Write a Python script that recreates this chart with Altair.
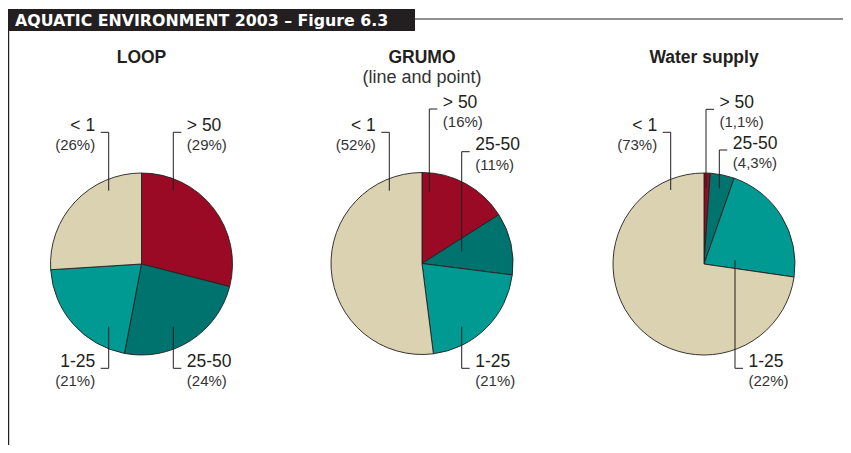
import altair as alt
import numpy as np
import pandas as pd

# ---------------- data ----------------
groups = ["LOOP", "GRUMO", "Water supply"]
classes = ["> 50", "25-50", "1-25", "< 1"]
loop_share = [29, 24, 21, 26]
grumo_share = [16, 11, 21, 52]
water_share = [1.1, 4.3, 22, 73]
shares = {"LOOP": loop_share, "GRUMO": grumo_share, "Water supply": water_share}
subtitles = {"GRUMO": "(line and point)"}
header_text = "AQUATIC ENVIRONMENT 2003 – Figure 6.3"

# ---------------- style / layout ----------------
colors = ["#9a0a24", "#00736f", "#009a93", "#dbd2b2"]
INK = "#231f20"
OFF = 8                     # page margin -> chart coordinates
W, H = 835, 437
R = 91
centers = {"LOOP": (141.5, 264), "GRUMO": (422, 263.5), "Water supply": (704, 264)}
title_y = 58
subtitle_y = 78
# leader elbow (x, y), inner end y, side -- page coordinates
leaders = {
    ("LOOP", "> 50"): (173.3, 132.3, 190.7, "R"),
    ("LOOP", "25-50"): (173.3, 368.3, 326.7, "R"),
    ("LOOP", "1-25"): (108.7, 368.3, 326.7, "L"),
    ("LOOP", "< 1"): (108.7, 132.3, 190.7, "L"),
    ("GRUMO", "> 50"): (429.3, 109.0, 191.7, "R"),
    ("GRUMO", "25-50"): (461.7, 151.7, 251.7, "R"),
    ("GRUMO", "1-25"): (461.7, 368.3, 326.7, "R"),
    ("GRUMO", "< 1"): (389.3, 132.3, 190.7, "L"),
    ("Water supply", "> 50"): (706.0, 109.3, 188.3, "R"),
    ("Water supply", "25-50"): (719.3, 150.0, 188.3, "R"),
    ("Water supply", "1-25"): (735.0, 368.3, 260.0, "R"),
    ("Water supply", "< 1"): (670.7, 132.3, 190.0, "L"),
}
TICK = 8
TEXT_GAP = 13.5
header_x = 15
header_box = (7, 415, 9, 31)
header_line_y = 19

FONT = "Liberation Sans"

# ---------------- tables ----------------
arc_rows = []
for g in groups:
    vals = np.array(shares[g], dtype=float)
    frac = vals / vals.sum()
    ends = np.cumsum(frac)
    starts = ends - frac
    cx, cy = centers[g]
    for c, s, e in zip(classes, starts, ends):
        arc_rows.append({"group": g, "cls": c, "t0": s, "t1": e, "cx": cx - OFF, "cy": cy - OFF})
arc_df = pd.DataFrame(arc_rows)

lab_rows = []
for g in groups:
    for c, v in zip(classes, shares[g]):
        ex, ey, py, side = leaders[(g, c)]
        sgn = 1 if side == "R" else -1
        lab_rows.append({
            "group": g, "cls": c,
            "pct": "(" + f"{v:g}".replace(".", ",") + "%)",
            "ex": ex - OFF, "ey": ey - OFF, "py": py - OFF,
            "tx": ex - OFF + sgn * TICK,
            "lx": ex - OFF + sgn * TEXT_GAP,
            "cy": ey - OFF - 6.5, "py2": ey - OFF + 13,
            "side": side,
        })
lab_df = pd.DataFrame(lab_rows)

title_df = pd.DataFrame([{"t": g, "x": centers[g][0] - OFF, "y": title_y - OFF} for g in groups])
sub_df = pd.DataFrame([{"t": s, "x": centers[g][0] - OFF, "y": subtitle_y - OFF} for g, s in subtitles.items()])
head_df = pd.DataFrame([{"t": header_text, "x": header_x - OFF,
                         "y": (header_box[2] + header_box[3]) / 2 - OFF + 0.5}])
box_df = pd.DataFrame([{"x": 0, "x2": header_box[1] - OFF,
                        "y": header_box[2] - OFF, "y2": header_box[3] - OFF}])
hline_df = pd.DataFrame([{"x": header_box[1] - OFF, "x2": W, "y": header_line_y - OFF}])
vline_df = pd.DataFrame([{"x": 0.6, "y": header_box[3] - OFF, "y2": H}])

xs = alt.Scale(domain=[0, W], nice=False, zero=False)
ys = alt.Scale(domain=[0, H], nice=False, zero=False, reverse=True)
X = lambda f: alt.X(f, type="quantitative", scale=xs, axis=None)
Y = lambda f: alt.Y(f, type="quantitative", scale=ys, axis=None)

arcs = alt.Chart(arc_df).mark_arc(radius=R, stroke=INK, strokeWidth=0.9).encode(
    x=X("cx"), y=Y("cy"),
    theta=alt.Theta("t0:Q", scale=alt.Scale(domain=[0, 1], range=[0, 2 * np.pi]), stack=False),
    theta2="t1:Q",
    color=alt.Color("cls:N", scale=alt.Scale(domain=classes, range=colors), legend=None),
)

base_lab = alt.Chart(lab_df)
vlead = base_lab.mark_rule(color=INK, strokeWidth=1).encode(x=X("ex"), y=Y("ey"), y2="py")
tlead = base_lab.mark_rule(color=INK, strokeWidth=1).encode(x=X("ex"), x2="tx", y=Y("ey"))

def labels(side, align):
    b = base_lab.transform_filter(alt.datum.side == side)
    t1 = b.mark_text(align=align, baseline="middle", font=FONT, fontSize=17.5, color=INK).encode(
        x=X("lx"), y=Y("cy"), text="cls:N")
    t2 = b.mark_text(align=align, baseline="middle", font=FONT, fontSize=15, color="#333333").encode(
        x=X("lx"), y=Y("py2"), text="pct:N")
    return t1 + t2

titles = alt.Chart(title_df).mark_text(font=FONT, fontSize=17.5, fontWeight="bold", color=INK,
                                       baseline="middle").encode(x=X("x"), y=Y("y"), text="t:N")
subs = alt.Chart(sub_df).mark_text(font=FONT, fontSize=18, color="#333333",
                                   baseline="middle").encode(x=X("x"), y=Y("y"), text="t:N")

box = alt.Chart(box_df).mark_rect(color=INK).encode(x=X("x"), x2="x2", y=Y("y"), y2="y2")
head = alt.Chart(head_df).mark_text(font="DejaVu Sans", fontSize=15.8, fontWeight="bold", color="white",
                                    align="left", baseline="middle").encode(x=X("x"), y=Y("y"), text="t:N")
hline = alt.Chart(hline_df).mark_rule(color=INK, strokeWidth=1).encode(x=X("x"), x2="x2", y=Y("y"))
vline = alt.Chart(vline_df).mark_rule(color=INK, strokeWidth=1.2).encode(x=X("x"), y=Y("y"), y2="y2")

chart = alt.layer(
    arcs, vlead, tlead, labels("R", "left"), labels("L", "right"),
    titles, subs, box, head, hline, vline,
).properties(width=W, height=H, padding=0, autosize="none", background="white"
).configure_view(stroke=None)

chart.save("out.html", embed_options={"renderer": "svg", "actions": False})
